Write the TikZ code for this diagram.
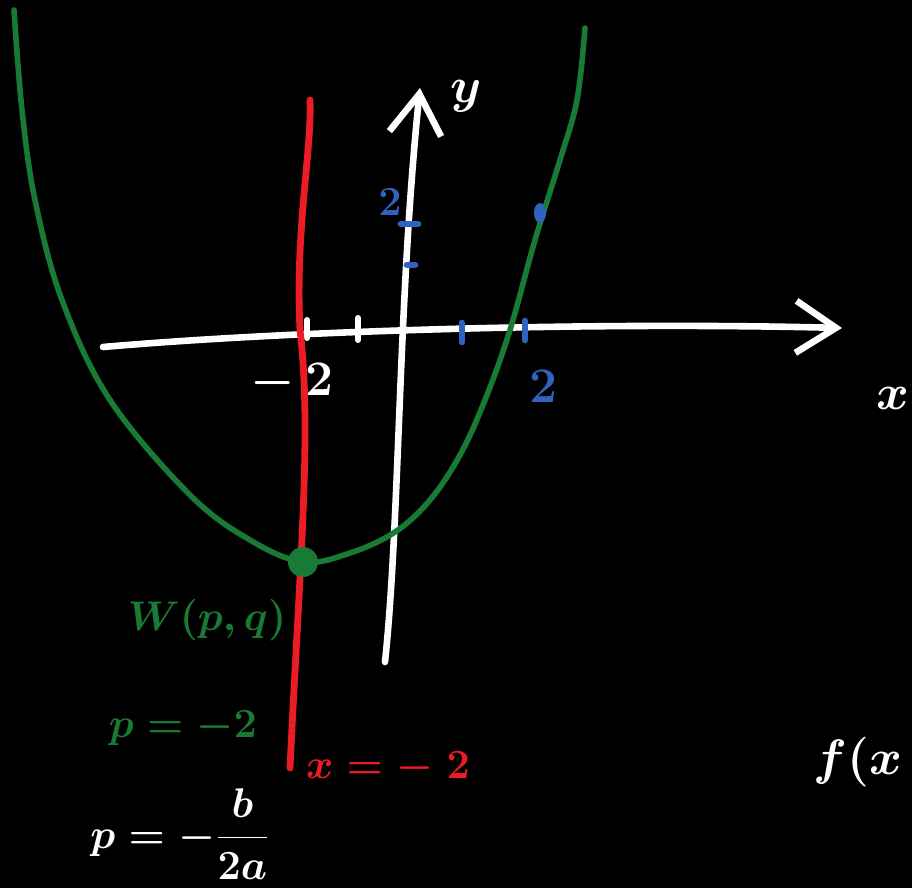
\documentclass[tikz,border=0pt]{standalone}
\usepackage{xcolor}
\usetikzlibrary{arrows.meta, positioning, shapes.geometric}
\definecolor{graphgreen}{RGB}{24,122,52}
\definecolor{symred}{RGB}{236,28,36}
\definecolor{tickblue}{RGB}{48,98,190}

\begin{document}
\begin{tikzpicture}[
  x=0.5pt, y=-0.5pt,
  axis/.style={draw=white, line width=3.3pt, line cap=round, line join=round,
    -{Straight Barb[length=20pt, width=26pt, line width=3.3pt]}},
  curve/.style={draw=graphgreen, line width=2.8pt, line cap=round},
  sym/.style={draw=symred, line width=3.4pt, line cap=round},
  tickw/.style={draw=white, line width=3pt, line cap=round},
  tickb/.style={draw=tickblue, line width=3.4pt, line cap=round},
  lbl/.style={inner sep=0pt, font=\fontsize{26}{28}\selectfont\boldmath},
  mid/.style={inner sep=0pt, font=\fontsize{22}{24}\selectfont\boldmath},
  small/.style={inner sep=0pt, font=\fontsize{20}{22}\selectfont\boldmath}
]
\fill[black] (0,0) rectangle (912,888);
\useasboundingbox (0,0) rectangle (912,888);

% axes
\coordinate (xstart) at (103,347);
\coordinate (xend) at (842,328);
\coordinate (ystart) at (385,662);
\coordinate (yend) at (420,88);
\draw[axis] (xstart) .. controls (300,330) and (600,322) .. (xend);
\draw[axis] (ystart) .. controls (400,520) and (398,300) .. (yend);
\node[lbl, text=white] (xlab) at (893,398) {$x$};
\node[lbl, text=white] (ylab) at (466,96) {$y$};

% ticks
\draw[tickw] (307,320) -- (307,338);
\draw[tickw] (358,318) -- (358,340);
\draw[tickb] (462,323) -- (462,342);
\draw[tickb] (525,321) -- (525,340);
\draw[tickb] (401,224) -- (418,224);
\draw[tickb] (407,265) -- (415,265);
\node[lbl, text=white] (mtwo) at (292,383) {$-\,2$};
\node[lbl, text=tickblue] (ptwo) at (543,386) {$2$};
\node[small, text=tickblue] (ytwo) at (390,202) {$2$};

% symmetry line
\draw[sym] (290,768) .. controls (300,560) and (312,430) .. (300,330)
  .. controls (295,230) and (312,150) .. (310,100);
\node[mid, text=symred] (axeq) at (388,768) {$x = -\ 2$};

% parabola
\draw[curve] plot[smooth, tension=0.6] coordinates {(14,10) (22,110) (35,200) (62,300)
  (110,400) (190,495) (250,540) (303,562) (350,553) (395,532) (430,500) (460,455)
  (485,400) (510,330) (535,240) (560,160) (577,100) (585,28)};
\node[circle, fill=graphgreen, minimum size=15pt, inner sep=0pt] (vertex) at (303,562) {};
\node[ellipse, fill=tickblue, minimum width=6pt, minimum height=10pt, inner sep=0pt]
  (pt) at (540,213) {};

% labels
\node[mid, text=graphgreen] (wlab) at (207,620) {$W(p,q)$};
\node[mid, text=graphgreen, font=\fontsize{21}{23}\selectfont\boldmath] (plab) at (183,728) {$p=-2$};
\node[lbl, text=white, font=\fontsize{22}{24}\selectfont\boldmath] (pform) at (180,834)
  {$p=-\displaystyle\frac{b}{2a}$};
\node[lbl, text=white, font=\fontsize{36}{38}\selectfont\boldmath] (flab) at (858,762) {$f(x$};
\end{tikzpicture}
\end{document}
